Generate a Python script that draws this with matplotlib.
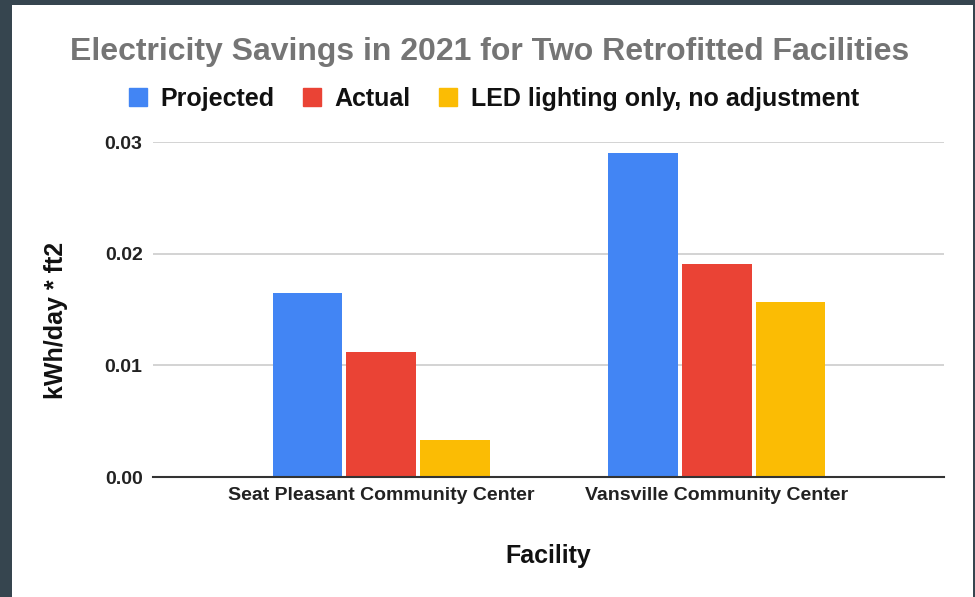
import numpy as np
import matplotlib
matplotlib.use("Agg")
import matplotlib.pyplot as plt
from matplotlib.patches import Rectangle
from matplotlib.lines import Line2D

# chart data
facilities = ["Seat Pleasant Community Center", "Vansville Community Center"]
series_names = ["Projected", "Actual", "LED lighting only, no adjustment"]
projected = [0.0165, 0.0290]
actual = [0.0112, 0.0191]
led_only = [0.0033, 0.0157]
yticks = [0.00, 0.01, 0.02, 0.03]

colors = ["#4285F4", "#EA4335", "#FBBC04"]

plt.rcParams['font.family'] = ['Liberation Sans', 'DejaVu Sans']
plt.rcParams['font.weight'] = 'bold'

W, H = 975, 597
fig = plt.figure(figsize=(W / 100, H / 100), dpi=100, facecolor="#36454f")

# white card on the dark background
fig.patches.append(Rectangle((12 / W, 0), (973 - 12) / W, (H - 5) / H,
                             transform=fig.transFigure, facecolor="white",
                             edgecolor="none", zorder=-10))

# plot area in pixels: x 153..944, y 142..477
ax = fig.add_axes([153 / W, (H - 477) / H, (944 - 153) / W, (477 - 142) / H])
ax.set_facecolor("white")

x = np.arange(len(facilities))
width = 0.208
step = 0.219
for i, (vals, c) in enumerate(zip([projected, actual, led_only], colors)):
    ax.bar(x + (i - 1) * step, vals, width, color=c, zorder=3)

ax.set_xlim(-0.679, 1.676)
ax.set_ylim(0, 0.03)
ax.set_yticks(yticks)
ax.set_yticklabels(["%.2f" % v for v in yticks])
ax.set_xticks(x)
ax.set_xticklabels(facilities)

ax.grid(axis="y", color="#cccccc", linewidth=1.2, zorder=0)
ax.set_axisbelow(True)
for s in ["top", "right", "left"]:
    ax.spines[s].set_visible(False)
ax.spines["bottom"].set_color("#333333")
ax.spines["bottom"].set_linewidth(1.5)
ax.spines["bottom"].set_zorder(4)

ax.tick_params(axis="y", length=0, pad=7.5, labelsize=14, labelcolor="#222222")
ax.tick_params(axis="x", length=0, pad=7, labelsize=14, labelcolor="#222222")

fig.text(56 / W, 1 - 320 / H, "kWh/day * ft2", rotation=90, ha="center",
         va="center", fontsize=18, fontweight="bold", color="#111111")
fig.text(548 / W, 1 - 556 / H, "Facility", ha="center", va="center",
         fontsize=18, fontweight="bold", color="#111111")

fig.text(490 / W, 1 - 60 / H, "Electricity Savings in 2021 for Two Retrofitted Facilities",
         ha="center", va="baseline", fontsize=23, fontweight="bold", color="#757575")

handles = [Line2D([], [], linestyle="none", marker="s", markersize=13.5,
                  markerfacecolor=c, markeredgecolor=c) for c in colors]
fig.legend(handles, series_names, loc="center", ncol=3,
           bbox_to_anchor=(492 / W, 1 - 99 / H), frameon=False,
           prop={"size": 18, "weight": "bold"}, handlelength=1.0,
           handletextpad=0.4, columnspacing=1.0, labelcolor="#111111")

fig.savefig("out.png", dpi=100, facecolor=fig.get_facecolor())
